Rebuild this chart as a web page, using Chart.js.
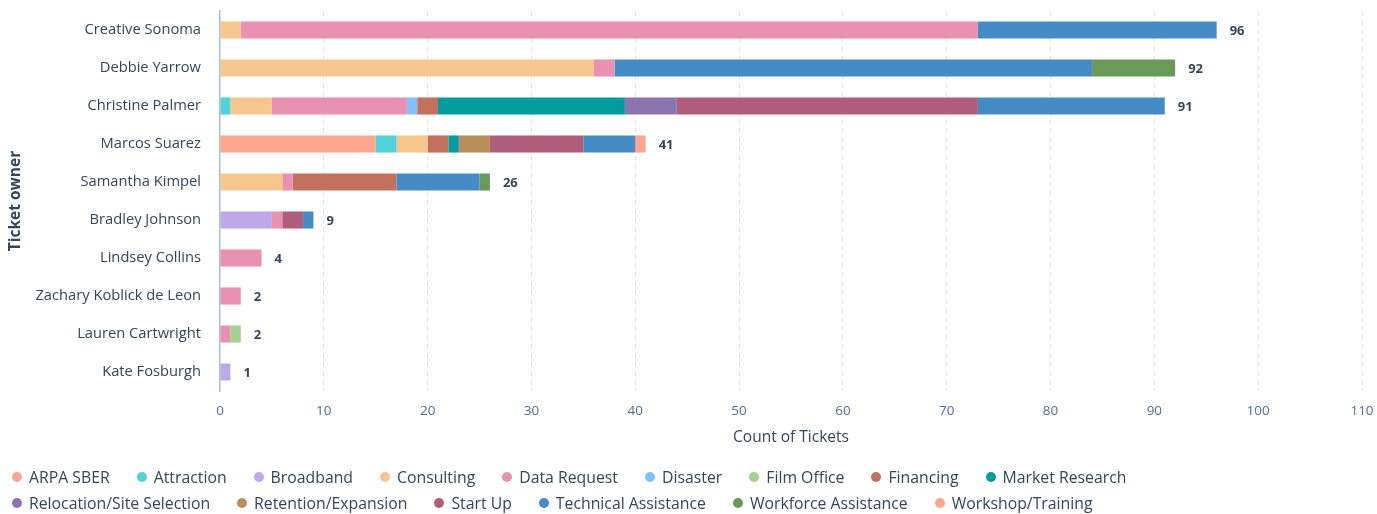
<!DOCTYPE html>
<html>
<head>
<meta charset="utf-8">
<script src="https://cdn.jsdelivr.net/npm/chart.js@4"></script>
<style>
  body { margin: 0; background: #fff; font-family: "Open Sans", sans-serif; }
  #wrap { position: relative; width: 1377px; height: 514px; }
  #legend {
    position: absolute; left: 12px; top: 466px; width: 1360px;
    display: flex; flex-wrap: wrap; row-gap: 2px;
    font-size: 15.8px; color: #33475b;
  }
  .item { display: flex; align-items: center; margin-right: 27px; height: 22px; white-space: nowrap; }
  .dot { width: 10px; height: 10px; border-radius: 50%; margin-right: 7px; }
  .break { flex-basis: 100%; height: 0; }
</style>
</head>
<body>
<div id="wrap">
  <canvas id="chart" width="1377" height="514"></canvas>
  <div id="legend"></div>
</div>
<script>
// Ticket owners (y axis), top to bottom
const owners = ['Creative Sonoma', 'Debbie Yarrow', 'Christine Palmer', 'Marcos Suarez', 'Samantha Kimpel',
  'Bradley Johnson', 'Lindsey Collins', 'Zachary Koblick de Leon', 'Lauren Cartwright', 'Kate Fosburgh'];

// Ticket categories, one array of counts per category (same order as owners)
const arpaSber           = [0, 0, 0, 15, 0, 0, 0, 0, 0, 0];
const attraction         = [0, 0, 1, 2, 0, 0, 0, 0, 0, 0];
const broadband          = [0, 0, 0, 0, 0, 5, 0, 0, 0, 1];
const consulting         = [2, 36, 4, 3, 6, 0, 0, 0, 0, 0];
const dataRequest        = [71, 2, 13, 0, 1, 1, 4, 2, 1, 0];
const disaster           = [0, 0, 1, 0, 0, 0, 0, 0, 0, 0];
const filmOffice         = [0, 0, 0, 0, 0, 0, 0, 0, 1, 0];
const financing          = [0, 0, 2, 2, 10, 0, 0, 0, 0, 0];
const marketResearch     = [0, 0, 18, 1, 0, 0, 0, 0, 0, 0];
const relocation         = [0, 0, 5, 0, 0, 0, 0, 0, 0, 0];
const retention          = [0, 0, 0, 3, 0, 0, 0, 0, 0, 0];
const startUp            = [0, 0, 29, 9, 0, 2, 0, 0, 0, 0];
const technicalAssist    = [23, 46, 18, 5, 8, 1, 0, 0, 0, 0];
const workforceAssist    = [0, 8, 0, 0, 1, 0, 0, 0, 0, 0];
const workshopTraining   = [0, 0, 0, 1, 0, 0, 0, 0, 0, 0];

const categoryNames = ['ARPA SBER', 'Attraction', 'Broadband', 'Consulting', 'Data Request', 'Disaster',
  'Film Office', 'Financing', 'Market Research', 'Relocation/Site Selection', 'Retention/Expansion',
  'Start Up', 'Technical Assistance', 'Workforce Assistance', 'Workshop/Training'];
const categoryValues = [arpaSber, attraction, broadband, consulting, dataRequest, disaster, filmOffice,
  financing, marketResearch, relocation, retention, startUp, technicalAssist, workforceAssist, workshopTraining];
const categoryColors = ['#fea58e', '#51d3d9', '#bda9ea', '#f5c78e', '#ea90b1', '#81c1fd', '#a2d28f',
  '#c3705c', '#009ca0', '#8b74b0', '#b88f5a', '#b05c7b', '#458bc5', '#6a9a5a', '#fea58e'];

const xTickStep = 10;
const xMax = 110;

const textColor = '#33475b';
const legendFirstRow = 9; // items on the first legend line

// Draws the total at the end of each stacked bar
const totalLabels = {
  id: 'totalLabels',
  afterDatasetsDraw(chart) {
    const ctx = chart.ctx;
    const xs = chart.scales.x;
    const ys = chart.scales.y;
    ctx.save();
    ctx.font = 'bold 13px "Open Sans"';
    ctx.fillStyle = textColor;
    ctx.textBaseline = 'middle';
    owners.forEach((o, i) => {
      const total = chart.data.datasets.reduce((s, d) => s + (d.data[i] || 0), 0);
      ctx.fillText(total, xs.getPixelForValue(total) + 13, ys.getPixelForValue(i) + 1);
    });
    ctx.restore();
  }
};

const chart = new Chart(document.getElementById('chart'), {
  type: 'bar',
  data: {
    labels: owners,
    datasets: categoryNames.map((name, i) => ({
      label: name,
      data: categoryValues[i],
      backgroundColor: categoryColors[i],
      borderWidth: 0,
      categoryPercentage: 0.9,
      barPercentage: 0.5
    }))
  },
  options: {
    indexAxis: 'y',
    responsive: false,
    animation: false,
    layout: { padding: { top: 11, right: 15, bottom: 63, left: 0 } },
    plugins: {
      legend: { display: false },
      tooltip: { enabled: false }
    },
    scales: {
      x: {
        stacked: true,
        min: 0,
        max: xMax,
        ticks: { stepSize: xTickStep, color: '#516f90', padding: 12, font: { family: 'Open Sans', size: 13.5 } },
        grid: {
          drawTicks: false,
          color: c => (c.tick && c.tick.value === 0) ? 'rgba(0,0,0,0)' : '#dde3ea'
        },
        border: { display: false, dash: [5, 4] },
        title: { display: true, text: 'Count of Tickets', color: textColor, font: { family: 'Open Sans', size: 15.5 } },
        afterFit: scale => {
          scale.height = 60;
          scale.paddingLeft = 0;
          scale.paddingRight = 0;
        }
      },
      y: {
        stacked: true,
        ticks: { color: textColor, padding: 19, font: { family: 'Open Sans', size: 14.7 } },
        grid: { display: false, drawTicks: false },
        border: { display: true, color: '#a9bdd0', width: 1.5 },
        title: {
          display: true, text: 'Ticket owner', color: textColor, padding: { top: 6, bottom: 4 },
          font: { family: 'Open Sans', size: 15.5, weight: 'bold' }
        },
        afterFit: scale => {
          scale.width = 220;
          scale.paddingTop = 0;
          scale.paddingBottom = 0;
        }
      }
    }
  },
  plugins: [totalLabels]
});

// HTML legend built from the chart's datasets
const legendEl = document.getElementById('legend');
chart.data.datasets.forEach((ds, i) => {
  if (i === legendFirstRow) {
    const br = document.createElement('div');
    br.className = 'break';
    legendEl.appendChild(br);
  }
  const item = document.createElement('div');
  item.className = 'item';
  const dot = document.createElement('span');
  dot.className = 'dot';
  dot.style.background = ds.backgroundColor;
  item.appendChild(dot);
  item.appendChild(document.createTextNode(ds.label));
  legendEl.appendChild(item);
});
</script>
</body>
</html>
